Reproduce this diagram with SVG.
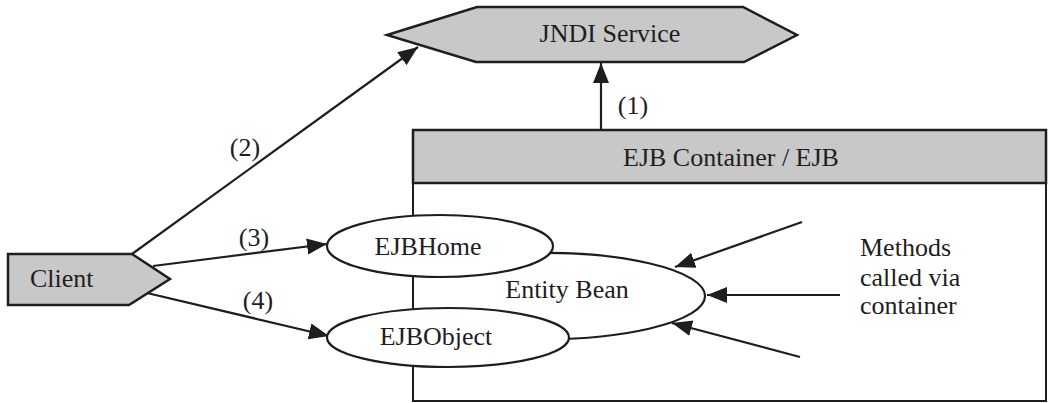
<svg xmlns="http://www.w3.org/2000/svg" width="1050" height="403" viewBox="0 0 1050 403">
  <style>
    .lbl { font-family: "Liberation Serif", "Times New Roman", serif; font-size: 26px; fill: #1e1e1e; }
    .shade { fill: #c8c8c8; stroke: #1e1e1e; stroke-width: 2.5; }
    .oval { fill: #ffffff; stroke: #1e1e1e; stroke-width: 2.2; }
    .blank { fill: #ffffff; stroke: none; }
    .edge { fill: none; stroke: #1e1e1e; stroke-width: 2.2; }
  </style>
  <defs>
    <marker id="arrow" markerUnits="userSpaceOnUse" markerWidth="22" markerHeight="18" refX="20" refY="9" orient="auto">
      <path d="M0,1 L20,9 L0,17 Z" fill="#1e1e1e"/>
    </marker>
  </defs>
  <rect width="1050" height="403" fill="#ffffff"/>

  <!-- container / EJB box -->
  <g id="container">
    <rect x="413" y="130" width="633" height="271" fill="#ffffff" stroke="#1e1e1e" stroke-width="2"/>
    <rect x="413" y="130" width="633" height="53" class="shade" stroke-width="3"/>
    <text class="lbl" x="731" y="166" text-anchor="middle">EJB Container / EJB</text>
  </g>

  <!-- JNDI service -->
  <g id="jndi">
    <polygon class="shade" points="387,35 477,7 743,7 797,35 744,62 476,62"/>
    <text class="lbl" x="610" y="42" text-anchor="middle">JNDI Service</text>
  </g>

  <!-- client -->
  <g id="client">
    <polygon class="shade" points="8,254 132,254 170,279 129,305 8,305"/>
    <text class="lbl" x="30" y="287">Client</text>
  </g>

  <!-- connectors -->
  <g id="connectors">
    <line class="edge" x1="601" y1="130" x2="601" y2="63" marker-end="url(#arrow)"/>
    <line class="edge" x1="132" y1="254" x2="418" y2="47" marker-end="url(#arrow)"/>
    <line class="edge" x1="153" y1="266" x2="327" y2="244" marker-end="url(#arrow)"/>
    <line class="edge" x1="147" y1="293" x2="329" y2="336" marker-end="url(#arrow)"/>
    <line class="edge" x1="802" y1="222" x2="675" y2="267" marker-end="url(#arrow)"/>
    <line class="edge" x1="840" y1="295" x2="707" y2="295" marker-end="url(#arrow)"/>
    <line class="edge" x1="800" y1="357" x2="672" y2="323" marker-end="url(#arrow)"/>
    <text class="lbl" x="633" y="114" text-anchor="middle">(1)</text>
    <text class="lbl" x="245" y="156" text-anchor="middle">(2)</text>
    <text class="lbl" x="254" y="246" text-anchor="middle">(3)</text>
    <text class="lbl" x="258" y="309" text-anchor="middle">(4)</text>
  </g>

  <!-- entity bean, its left side hidden behind the home and object interfaces -->
  <g id="entity-bean">
    <path class="blank" d="M520,253.53 A160,43 0 1 1 520,338.47 Z"/>
    <path class="edge" d="M520,253.53 A160,43 0 1 1 520,338.47"/>
    <text class="lbl" x="567" y="298" text-anchor="middle">Entity Bean</text>
  </g>

  <g id="ejb-home">
    <ellipse class="oval" cx="440" cy="246" rx="113" ry="31"/>
    <text class="lbl" x="428" y="255" text-anchor="middle">EJBHome</text>
  </g>

  <g id="ejb-object">
    <ellipse class="oval" cx="448" cy="337.5" rx="121" ry="29.5"/>
    <text class="lbl" x="436" y="345" text-anchor="middle">EJBObject</text>
  </g>

  <!-- container-side callers -->
  <g id="methods">
    <text class="lbl" x="860" y="256">Methods</text>
    <text class="lbl" x="860" y="286">called via</text>
    <text class="lbl" x="860" y="314">container</text>
  </g>
</svg>
